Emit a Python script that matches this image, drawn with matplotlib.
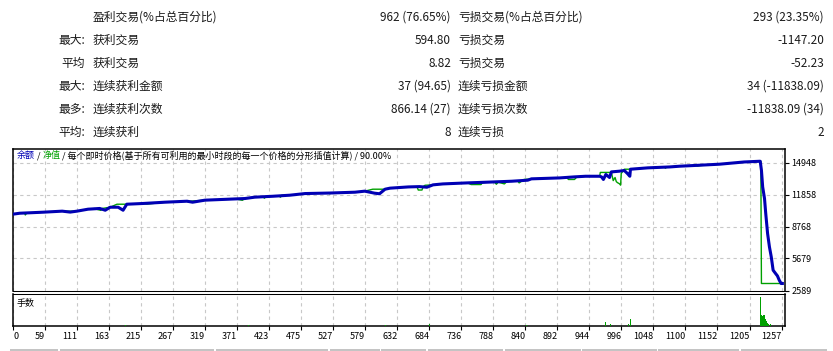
import matplotlib.pyplot as plt
from matplotlib.patches import Rectangle

plt.rcParams['font.family'] = ['Noto Sans CJK SC', 'DejaVu Sans']

# summary table
prefixes = ['', '最大:', '平均', '最大:', '最多:', '平均:']
win_labels = ['盈利交易(%占总百分比)', '获利交易', '获利交易', '连续获利金额', '连续获利次数', '连续获利']
win_values = ['962 (76.65%)', '594.80', '8.82', '37 (94.65)', '866.14 (27)', '8']
loss_labels = ['亏损交易(%占总百分比)', '亏损交易', '亏损交易', '连续亏损金额', '连续亏损次数', '连续亏损']
loss_values = ['293 (23.35%)', '-1147.20', '-52.23', '34 (-11838.09)', '-11838.09 (34)', '2']

# balance curve (trade number, balance)
balance_idx = [7, 18, 56, 87, 100, 111, 129, 148, 157, 165, 178, 186, 192, 218, 254, 290, 299,
               319, 384, 400, 430, 457, 482, 522, 563, 579, 595, 603, 612, 620, 650, 668, 680,
               690, 706, 746, 779, 818, 844, 850, 896, 920, 938, 961, 964, 967, 971, 977, 980,
               993, 1001, 1006, 1010, 1011, 1039, 1075, 1091, 1115, 1156, 1196, 1222, 1224,
               1226, 1229, 1231, 1234, 1237, 1240, 1243, 1247, 1250, 1253, 1256, 1258]
balance_val = [9960, 10050, 10150, 10250, 10160, 10250, 10440, 10510, 10340, 10630, 10630, 10340,
               10920, 10990, 11115, 11210, 11115, 11310, 11470, 11600, 11690, 11790, 11950, 12000,
               12080, 12180, 11985, 11930, 12370, 12470, 12590, 12620, 12560, 12790, 12880, 12980,
               13050, 13140, 13240, 13370, 13460, 13560, 13620, 13620, 13560, 13310, 13790, 13500,
               14040, 14110, 14175, 13890, 13620, 14300, 14430, 14520, 14590, 14660, 14785, 15000,
               15070, 14200, 12590, 11470, 10020, 8090, 6800, 5830, 4550, 4230, 4000, 3580, 3265,
               3265]

# equity curve
equity_idx = [7, 18, 26, 27, 29, 56, 87, 111, 129, 140, 145, 150, 152, 165, 176, 192, 218, 225,
              254, 290, 292, 294, 319, 370, 380, 384, 400, 414, 416, 418, 440, 442, 444, 457, 482,
              520, 522, 525, 563, 579, 592, 612, 620, 650, 664, 666, 672, 674, 677, 690, 706, 746,
              752, 768, 770, 779, 790, 793, 796, 806, 810, 818, 828, 830, 834, 838, 850, 896, 908,
              910, 920, 924, 938, 961, 962, 980, 983, 986, 988, 990, 993, 995, 996, 1001, 1011,
              1039, 1066, 1068, 1070, 1091, 1115, 1120, 1125, 1156, 1196, 1223, 1224, 1258]
equity_val = [9960, 10050, 10050, 9880, 10050, 10150, 10250, 10250, 10440, 10500, 10400, 10330,
              10510, 10630, 10920, 10920, 10990, 10930, 11115, 11210, 11130, 11210, 11310, 11420,
              11300, 11470, 11600, 11600, 11500, 11690, 11690, 11600, 11790, 11790, 11950, 12000,
              11930, 12000, 12080, 12180, 12370, 12370, 12470, 12590, 12590, 12290, 12290, 12620,
              12750, 12790, 12880, 12980, 12820, 12820, 12980, 13050, 13050, 12850, 13050, 12880,
              13100, 13140, 13140, 12980, 13140, 13310, 13370, 13460, 13500, 13310, 13310, 13560,
              13620, 13620, 13990, 13990, 13200, 13500, 13100, 13000, 12900, 12760, 13890, 14300,
              14300, 14430, 14500, 14400, 14520, 14590, 14660, 14600, 14660, 14785, 15000, 15070,
              3265, 3265]

# lots per trade
lots_idx = [190, 390, 612, 685, 842, 970, 978, 1008, 1011, 1222, 1223, 1224, 1225, 1226, 1227,
            1228, 1229, 1230, 1231, 1232, 1233, 1234, 1235, 1238]
lots_val = [0.01, 0.01, 0.01, 0.02, 0.01, 0.04, 0.02, 0.02, 0.07, 0.30, 0.11, 0.11, 0.10, 0.08,
            0.08, 0.11, 0.11, 0.07, 0.07, 0.05, 0.04, 0.03, 0.02, 0.02]

xtick_labels = ['0', '59', '111', '163', '215', '267', '319', '371', '423', '475', '527', '579',
                '632', '684', '736', '788', '840', '892', '944', '996', '1048', '1100', '1152',
                '1205', '1257']
ytick_vals = [2589, 5679, 8768, 11858, 14948]

W, H = 833, 351
fig = plt.figure(figsize=(W / 100, H / 100), dpi=100)


def fx(px):
    return px / W


def fy(py):
    return 1 - py / H


txt = '#1a1a1a'
fs = 8.5
row_y = [17.3, 40.5, 63.5, 86.5, 109.5, 132.5]
for i in range(len(row_y)):
    y = fy(row_y[i])
    fig.text(fx(85), y, prefixes[i], ha='right', va='center', fontsize=fs, color=txt)
    fig.text(fx(93), y, win_labels[i], ha='left', va='center', fontsize=fs, color=txt)
    fig.text(fx(451), y, win_values[i], ha='right', va='center', fontsize=fs, color=txt)
    fig.text(fx(458), y, loss_labels[i], ha='left', va='center', fontsize=fs, color=txt)
    fig.text(fx(824), y, loss_values[i], ha='right', va='center', fontsize=fs, color=txt)

ax = fig.add_axes([fx(13), fy(290.5), fx(784.5) - fx(13), fy(148.5) - fy(290.5)])
axv = fig.add_axes([fx(13), fy(326), fx(784.5) - fx(13), fy(293.5) - fy(326)], sharex=ax)

grid_kw = dict(color='#c8c8c8', linestyle=(0, (3, 3)), linewidth=0.8)
blue = '#0000b4'
green = '#00a000'

ax.plot(equity_idx, equity_val, color=green, lw=1.0, zorder=3)
ax.plot(balance_idx, balance_val, color=blue, lw=2.2, zorder=4)
ax.set_xlim(7, 1261.5)
ax.set_ylim(2589, 16300)
ax.set_yticks(ytick_vals)
ax.set_yticklabels([str(v) for v in ytick_vals])
ax.yaxis.tick_right()
ax.tick_params(axis='y', length=3, width=0.8, pad=2, labelsize=6.5, colors='k')
ax.tick_params(axis='x', length=0, labelbottom=False)
ax.grid(True, **grid_kw)
for s in ax.spines.values():
    s.set_linewidth(1.1)
ax.spines['bottom'].set_linewidth(0.75)

axv.bar(lots_idx, lots_val, width=1.6, color=green, linewidth=0, zorder=3)
axv.set_ylim(0, 0.34)
axv.set_yticks([])
xt = [max(float(t), 7) for t in xtick_labels]
axv.set_xticks(xt)
axv.set_xticklabels(xtick_labels)
axv.tick_params(axis='x', length=3, width=0.8, pad=1, labelsize=6.5)
for i, lab in enumerate(axv.get_xticklabels()):
    lab.set_ha('left' if i == 0 else 'right')
axv.grid(True, axis='x', **grid_kw)
for s in axv.spines.values():
    s.set_linewidth(1.1)
axv.spines['top'].set_linewidth(0.75)
axv.text(4 / 771.5, 0.7, '手数', transform=axv.transAxes, fontsize=6.5, va='center', ha='left')

# chart header with coloured parts
parts = [('余额', blue), (' / ', 'k'), ('净值', green),
         (' / 每个即时价格(基于所有可利用的最小时段的每一个价格的分形插值计算) / 90.00%', 'k')]
t = ax.text(4 / 771.5, 1 - 7 / 142, parts[0][0], transform=ax.transAxes, fontsize=6.5,
            color=parts[0][1], ha='left', va='center')
for s, c in parts[1:]:
    t = ax.annotate(s, xy=(1, 0), xycoords=t, fontsize=6.5, color=c, ha='left', va='bottom')

# grey strip at the bottom edge
for x0, x1 in [(10, 58), (60, 214), (216, 328), (330, 380), (381, 426), (428, 503),
               (505, 581), (582, 657), (658, 739), (741, 827)]:
    fig.patches.append(Rectangle((fx(x0), 0), fx(x1) - fx(x0), 2.5 / H, transform=fig.transFigure,
                                 color='#c4c4c4', lw=0))

fig.savefig('out.png', dpi=100)
